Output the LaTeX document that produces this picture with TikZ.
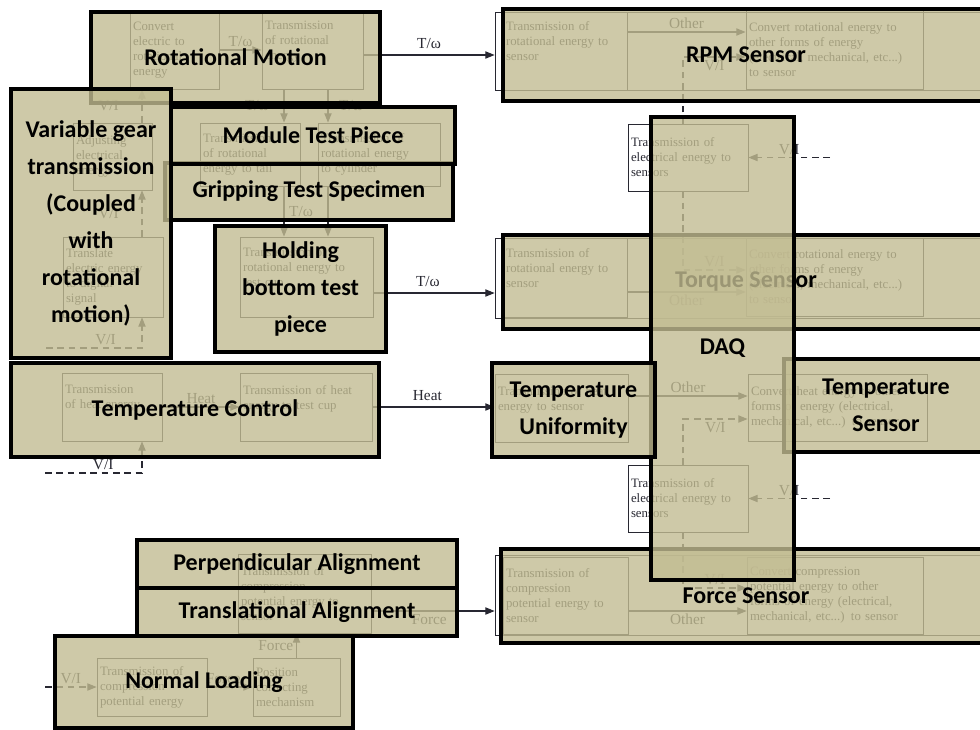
\documentclass[tikz,border=0pt]{standalone}
\usepackage{fontspec}
\setmainfont{Liberation Serif}
\newfontfamily\lblfont{Carlito}
\usetikzlibrary{arrows.meta}
\definecolor{khaki}{RGB}{194,188,146}
\definecolor{ink}{RGB}{40,40,50}
\def\u{.75pt}
\tikzstyle{blk}=[draw=black,line width=2.7pt,fill=khaki,fill opacity=.8,text opacity=1,align=center,font=\lblfont\bfseries\fontsize{18}{27.75}\selectfont]
\tikzstyle{fb}=[draw=ink,line width=.6pt,text=ink,align=left,inner xsep=3*\u,font=\fontsize{9.6}{11.25}\selectfont]
\tikzstyle{fl}=[draw=ink,line width=.8pt,-{Triangle[length=7pt,width=5.5pt]}]
\tikzstyle{fd}=[fl,dash pattern=on 5pt off 3.5pt]
\tikzstyle{lab}=[text=ink,font=\fontsize{11.5}{12}\selectfont,inner sep=2pt]

\begin{document}
\begin{tikzpicture}[x=\u,y=-\u]
			\useasboundingbox (0,0) rectangle (980,729);
			\node[fb,minimum height=78*\u,text width=83*\u](b1) at (174.5,50){Convert\\electric to\\rotational\\energy};
			\node[fb,minimum height=78*\u,text width=95*\u](b2) at (312.5,50){Transmission\\of rotational\\energy\\\strut};
			\node[fb,minimum height=67*\u,text width=73*\u](b3) at (112.5,156.5){Adjusting\\electrical\\energy};
			\node[fb,minimum height=80*\u,text width=94*\u](b4) at (113,277){Translate\\electric energy\\to digital\\signal};
			\node[fb,minimum height=68*\u,text width=94*\u](b5) at (112,407){Transmission\\of heat energy\\\strut};
			\node[fb,minimum height=68*\u,text width=126*\u](b6) at (306,407){Transmission of heat\\energy to test cup\\\strut};
			\node[fb,minimum height=63*\u,text width=94*\u](m1) at (250,154.5){Transmission\\of rotational\\energy to tail};
			\node[fb,minimum height=63*\u,text width=116*\u](m2) at (379,154.5){Transmission of\\rotational energy\\to cylinder};
			\node[fb,minimum height=80*\u,text width=127*\u](b9) at (306.5,277){Transmission of\\rotational energy to\\test cup\\\strut};
			\node[fb,minimum width=505*\u,minimum height=78*\u](rpo) at (747.5,51){};
			\node[fb,minimum height=78*\u,text width=118*\u](r1) at (565,51){Transmission of\\rotational energy to\\sensor\\\strut};
			\node[fb,minimum height=79*\u,text width=171*\u](r2) at (834.5,49.5){Convert rotational energy to\\other forms of energy\\(electrical, mechanical, etc...)\\to sensor};
			\node[fb,minimum height=67*\u,text width=114*\u](e1) at (688,157.5){Transmission of\\electrical energy to\\sensors};
			\node[fb,minimum width=505*\u,minimum height=80*\u](tqo) at (747.5,278){};
			\node[fb,minimum height=79*\u,text width=118*\u](t1) at (565,277.5){Transmission of\\rotational energy to\\sensor\\\strut};
			\node[fb,minimum height=78*\u,text width=171*\u](t2) at (834.5,277){Convert rotational energy to\\other forms of energy\\(electrical, mechanical, etc...)\\to sensor};
			\node[fb,minimum height=68*\u,text width=127*\u](h1) at (561.5,408){Transmission of heat\\energy to sensor\\\strut};
			\node[fb,minimum height=67*\u,text width=173*\u](h2) at (837.5,407.5){Convert heat energy to other\\forms of energy (electrical,\\mechanical, etc...) to sensor};
			\node[fb,minimum height=67*\u,text width=114*\u](e2) at (688,498.5){Transmission of\\electrical energy to\\sensors};
			\node[fb,minimum width=505*\u,minimum height=80*\u](fo) at (747.5,595){};
			\node[fb,minimum height=77*\u,text width=119*\u](f1) at (565.5,595.5){Transmission of\\compression\\potential energy to\\sensor};
			\node[fb,minimum height=77*\u,text width=170*\u](f2) at (835,595.5){Convert compression\\potential energy to other\\forms of energy (electrical,\\mechanical, etc...) to sensor};
			\node[fb,minimum height=79*\u,text width=127*\u](fb1) at (304.5,593.5){Transmission of\\compression\\potential energy to\\sensor};
			\node[fb,minimum height=58*\u,text width=104*\u](n1) at (152,687){Transmission of\\compression\\potential energy};
			\node[fb,minimum height=58*\u,text width=81*\u](n2) at (296.5,687){Position\\correcting\\mechanism};
			\coordinate(vl) at (142,0);
			\coordinate(vx) at (683,0);
			\coordinate(c1) at (284,0);
			\coordinate(c2) at (328,0);
			\coordinate(ry) at (0,32);
			\coordinate(ty) at (0,292);
			\coordinate(hy) at (0,396);
			\coordinate(fy) at (0,611);
			\coordinate(rv) at (0,57);
			\coordinate(tv) at (0,270);
			\coordinate(hv) at (0,419);
			\coordinate(fv) at (0,588);
			\coordinate(p0) at (46,348);
			\coordinate(p1) at (830,157.5);
			\coordinate(p2) at (830,498.5);
			\coordinate(p3) at (45,473);
			\coordinate(p4) at (45,687);
			\draw[fl](b1)--(b2) node[lab,midway,above]{T/ω};
			\draw[fd](p0)-|(vl|-b4.south) node[lab,pos=.31,above]{V/I};
			\draw[fd](vl|-b4.north)--(vl|-b3.south) node[lab,midway,left=20*\u]{V/I};
			\draw[fd](vl|-b3.north)--(vl|-b1.south) node[lab,midway,left=20*\u]{V/I};
			\draw[fl](c1|-b2.south)--(c1|-m1.north) node[lab,midway,left=12*\u]{T/ω};
			\draw[fl](c2|-b2.south)--(c2|-m2.north) node[lab,midway,right=8*\u]{T/ω};
			\draw[fl](c1|-m1.south)--(c1|-b9.north) node[lab,midway,right=2*\u]{T/ω};
			\draw[fl](c2|-m2.south)--(c2|-b9.north);
			\draw[fl](b5)--(b6) node[lab,midway,above]{Heat};
			\draw[fd](p3)-|(vl|-b5.south) node[lab,pos=.3,above]{V/I};
			\draw[fl](b2.east|-55,55)--(rpo.west|-55,55) node[lab,midway,above=3*\u]{T/ω};
			\draw[fl](b9.east|-0,293)--(tqo.west|-0,293) node[lab,pos=.45,above=3*\u]{T/ω};
			\draw[fl](b6.east)--(b6.east-|h1.west) node[lab,pos=.45,above=3*\u]{Heat};
			\draw[fl](fb1.east|-fy)--(fo.west|-fy) node[lab,pos=.47,below]{Force};
			\draw[fl](n1)--(n2) node[lab,pos=.35,above]{Force};
			\draw[fl](n2.north)--(n2.north|-fb1.south) node[lab,midway,left]{Force};
			\draw[fd](p4)--(n1) node[lab,midway,above]{V/I};
			\draw[fl](r1.east|-ry)--(r2.west|-ry) node[lab,midway,above]{Other};
			\draw[fl](t1.east|-ty)--(t2.west|-ty) node[lab,midway,below]{Other};
			\draw[fl](h1.east|-hy)--(h2.west|-hy) node[lab,midway,above]{Other};
			\draw[fl](f1.east|-fy)--(f2.west|-fy) node[lab,midway,below]{Other};
			\draw[fd](vx|-e1.north)|-(r2.west|-rv) node[lab,pos=.75,below]{V/I};
			\draw[fd](vx|-e1.south)|-(t2.west|-tv) node[lab,pos=.75,above]{V/I};
			\draw[fd](vx|-e2.north)|-(h2.west|-hv) node[lab,pos=.75,below]{V/I};
			\draw[fd](vx|-e2.south)|-(f2.west|-fv) node[lab,pos=.75,above]{V/I};
			\draw[fd](p1)--(e1) node[lab,midway,above]{V/I};
			\draw[fd](p2)--(e2) node[lab,midway,above]{V/I};
			\node[blk,minimum width=289*\u,minimum height=91*\u](rot) at (235.5,57.5){Rotational Motion};
			\node[blk,minimum width=288*\u,minimum height=57*\u](grip) at (309,191.5){Gripping Test Specimen};
			\node[blk,minimum width=160*\u,minimum height=269*\u](vg) at (91,223.5){Variable gear\\transmission\\(Coupled\\with\\rotational\\motion)};
			\node[blk,minimum width=284*\u,minimum height=57*\u](mod) at (313,135.5){Module Test Piece};
			\node[blk,minimum width=171*\u,minimum height=126*\u](hold) at (300.5,289){Holding\\bottom test\\piece};
			\node[blk,minimum width=368*\u,minimum height=94*\u](tc) at (195,410){Temperature Control};
			\node[blk,minimum width=486*\u,minimum height=92*\u](rpm) at (746,55){RPM Sensor};
			\node[blk,minimum width=486*\u,minimum height=94*\u](torq) at (746,282){Torque Sensor};
			\node[blk,minimum width=490*\u,minimum height=94*\u](force) at (746,596){Force Sensor};
			\node[blk,minimum width=204*\u,minimum height=93*\u](tsens) at (886,405.5){Temperature\\Sensor};
			\node[blk,minimum width=143*\u,minimum height=463*\u](daq) at (722.5,348.5){DAQ};
			\node[blk,minimum width=163*\u,minimum height=94*\u](tu) at (573.5,410){Temperature\\Uniformity};
			\node[blk,minimum width=320*\u,minimum height=48*\u](perp) at (297,564){Perpendicular Alignment};
			\node[blk,minimum width=320*\u,minimum height=48*\u](trans) at (297,612){Translational Alignment};
			\node[blk,minimum width=298*\u,minimum height=92*\u](nl) at (204,682){Normal Loading};
		\end{tikzpicture}
\end{document}
